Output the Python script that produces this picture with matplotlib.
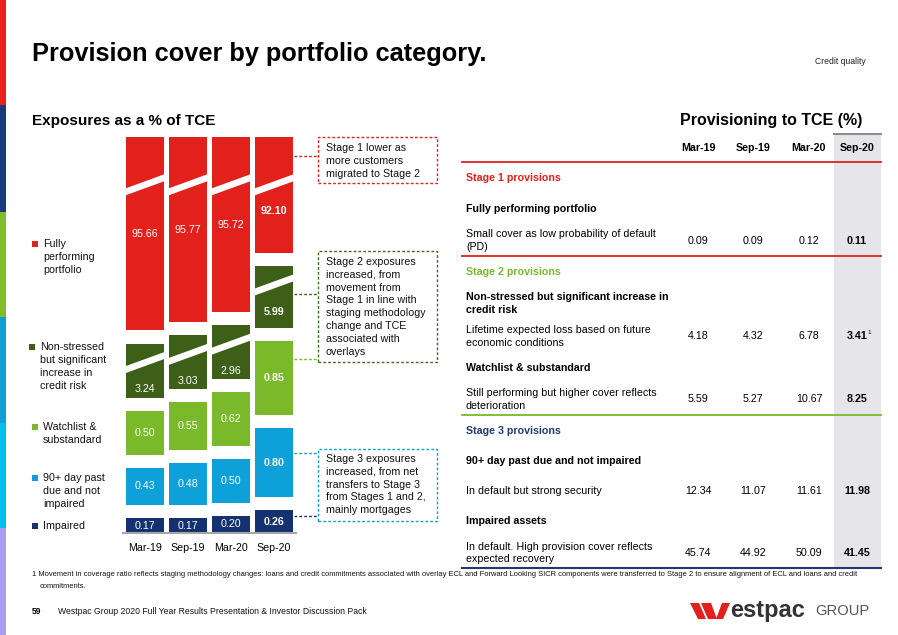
import matplotlib
matplotlib.use('Agg')
import matplotlib.pyplot as plt
from matplotlib.patches import Rectangle, Polygon
from matplotlib.lines import Line2D

plt.rcParams['font.family'] = ['Liberation Sans', 'DejaVu Sans']

# ---------------- data ----------------
periods = ['Mar-19', 'Sep-19', 'Mar-20', 'Sep-20']
impaired = [0.17, 0.17, 0.20, 0.26]
past_due_90 = [0.43, 0.48, 0.50, 0.80]
watchlist = [0.50, 0.55, 0.62, 0.85]
non_stressed = [3.24, 3.03, 2.96, 5.99]
fully_performing = [95.66, 95.77, 95.72, 92.10]

legend_labels = ['Fully\nperforming\nportfolio',
                 'Non-stressed\nbut significant\nincrease in\ncredit risk',
                 'Watchlist &\nsubstandard',
                 '90+ day past\ndue and not\nimpaired',
                 'Impaired']

stage1_cover = [0.09, 0.09, 0.12, 0.11]
ns_cover = [4.18, 4.32, 6.78, 3.41]
watch_cover = [5.59, 5.27, 10.67, 8.25]
pd90_cover = [12.34, 11.07, 11.61, 11.98]
impaired_cover = [45.74, 44.92, 50.09, 41.45]

# ---------------- style ----------------
RED = '#E2201C'
DKGREEN = '#3D5F18'
LTGREEN = '#7AB929'
BLUE = '#0EA0D8'
NAVY = '#143270'
FS = 7.7

W, H = 898, 635
fig = plt.figure(figsize=(W / 100, H / 100), dpi=100)
fig.patch.set_facecolor('white')


def fx(x):
    return x / W


def fy(y):
    return 1 - y / H


def ftext(x, y, s, **kw):
    kw.setdefault('va', 'center')
    kw.setdefault('ha', 'left')
    return fig.text(fx(x), fy(y), s, **kw)


def fline(x0, y0, x1, y1, **kw):
    fig.add_artist(Line2D([fx(x0), fx(x1)], [fy(y0), fy(y1)], transform=fig.transFigure, **kw))


def frect(x0, y0, x1, y1, **kw):
    fig.add_artist(Rectangle((fx(x0), fy(y1)), fx(x1) - fx(x0), fy(y0) - fy(y1),
                             transform=fig.transFigure, **kw))


# left colour strip
strip = [(0, 105, '#E8231E'), (105, 212, '#1A3A7A'), (212, 317, '#7DBE2A'),
         (317, 423, '#129DD3'), (423, 528, '#00C0EE'), (528, 635, '#A99CF2')]
for y0, y1, c in strip:
    frect(0, y0, 6, y1, facecolor=c, edgecolor='none')

# titles
ftext(32, 54, 'Provision cover by portfolio category.', fontsize=18.3, fontweight='bold', color='black')
ftext(866, 61, 'Credit quality', fontsize=6.2, ha='right', color='#222222')
ftext(32, 121, 'Exposures as a % of TCE', fontsize=11.0, fontweight='bold')
ftext(862, 121, 'Provisioning to TCE (%)', fontsize=11.5, fontweight='bold', ha='right')

# ---------------- bar chart ----------------
TOTAL = 4.55
GAP = 0.15
BW = 0.884
RISE = 0.17
THICK = 0.08

ax = fig.add_axes([fx(123.2), fy(533), (295.5 - 123.2) / W, (533 - 137) / H])
ax.set_xlim(-0.5, 3.5)
ax.set_ylim(0, TOTAL)
for s in ['top', 'right', 'left']:
    ax.spines[s].set_visible(False)
ax.spines['bottom'].set_color('#A6A6A6')
ax.spines['bottom'].set_linewidth(1.5)
ax.set_yticks([])
ax.set_xticks(range(len(periods)))
ax.set_xticklabels(periods, fontsize=FS)
ax.tick_params(axis='x', length=0, pad=7)
ax.patch.set_alpha(0)


def broken_h(v):
    return 0.53 + 0.03 * v


def slash(xc, yc):
    x0, x1 = xc - BW / 2 - 0.03, xc + BW / 2 + 0.03
    pts = [(x0, yc - RISE / 2 - THICK / 2), (x1, yc + RISE / 2 - THICK / 2),
           (x1, yc + RISE / 2 + THICK / 2), (x0, yc - RISE / 2 + THICK / 2)]
    ax.add_patch(Polygon(pts, closed=True, facecolor='white', edgecolor='none', zorder=3))
    return yc - RISE / 2 - THICK / 2


for i in range(len(periods)):
    weight = 'bold' if i == len(periods) - 1 else 'normal'
    bottom = 0.0
    small = [(impaired[i], NAVY), (past_due_90[i], BLUE), (watchlist[i], LTGREEN)]
    for v, c in small:
        ax.bar(i, v, width=BW, bottom=bottom, color=c, edgecolor='none', zorder=2)
        ax.text(i, bottom + v / 2, f'{v:.2f}', ha='center', va='center', color='white',
                fontsize=FS, fontweight=weight, zorder=4)
        bottom += v + GAP
    # non-stressed (broken)
    h = broken_h(non_stressed[i])
    ax.bar(i, h, width=BW, bottom=bottom, color=DKGREEN, edgecolor='none', zorder=2)
    top = bottom + h
    lb = slash(i, top - 0.22)
    ly = min(bottom + h / 2, lb - 0.18)
    ax.text(i, ly, f'{non_stressed[i]:.2f}', ha='center', va='center', color='white',
            fontsize=FS, fontweight=weight, zorder=4)
    bottom = top + GAP
    # fully performing (broken, fills to top)
    h = TOTAL - bottom
    ax.bar(i, h, width=BW, bottom=bottom, color=RED, edgecolor='none', zorder=2)
    lb = slash(i, TOTAL - 0.55)
    ly = min(bottom + h / 2, lb - 0.18)
    ax.text(i, ly, f'{fully_performing[i]:.2f}', ha='center', va='center', color='white',
            fontsize=FS, fontweight=weight, zorder=4)

# ---------------- legend ----------------
leg_colors = [RED, DKGREEN, LTGREEN, BLUE, NAVY]
leg_y = [244, 347, 427, 478, 526]
leg_sq_x = [32, 29, 32, 32, 32]
for lab, c, y, sx in zip(legend_labels, leg_colors, leg_y, leg_sq_x):
    frect(sx, y - 3, sx + 6, y + 3, facecolor=c, edgecolor='none')
    for k, line in enumerate(lab.split('\n')):
        ftext(sx + 11, y + k * 12.9, line, fontsize=FS, color='#111111')

# ---------------- annotation boxes ----------------
boxes = [
    (137, 183, RED, ['Stage 1 lower as', 'more customers', 'migrated to Stage 2'], 148),
    (251, 362, '#3D6A1E', ['Stage 2 exposures', 'increased, from', 'movement from',
                          'Stage 1 in line with', 'staging methodology',
                          'change and TCE', 'associated with', 'overlays'], 262),
    (449, 521, BLUE, ['Stage 3 exposures', 'increased, from net', 'transfers to Stage 3',
                      'from Stages 1 and 2,', 'mainly mortgages'], 459),
]
for y0, y1, c, lines, ty in boxes:
    frect(318, y0, 437, y1, facecolor='none', edgecolor=c, linewidth=1.0,
          linestyle=(0, (2, 1.5)))
    for k, line in enumerate(lines):
        ftext(326, ty + k * 12.8, line, fontsize=FS, color='#111111')

connectors = [(156, RED), (294, DKGREEN), (359, LTGREEN), (453, BLUE), (516, NAVY)]
for y, c in connectors:
    fline(294, y, 318, y, color=c, linewidth=1.0, linestyle=(0, (2, 1.5)))

# ---------------- table ----------------
col_x = [698, 753, 809, 857]
frect(834, 134, 881, 568, facecolor='#E6E6EA', edgecolor='none')
fline(834, 134, 881, 134, color='#8C8C8C', linewidth=1.5)
for x, p in zip(col_x, periods):
    ftext(x, 148, p, fontsize=FS, fontweight='bold', ha='center')

fline(462, 162, 881, 162, color=RED, linewidth=1.3)
fline(462, 256, 881, 256, color=RED, linewidth=1.3)
fline(462, 415, 881, 415, color=LTGREEN, linewidth=1.3)
fline(462, 568, 881, 568, color='#1F3A73', linewidth=1.5)

TX = 466
ftext(TX, 178, 'Stage 1 provisions', fontsize=FS, fontweight='bold', color=RED)
ftext(TX, 209, 'Fully performing portfolio', fontsize=FS, fontweight='bold')
ftext(TX, 234, 'Small cover as low probability of default', fontsize=FS)
ftext(TX, 247, '(PD)', fontsize=FS)

ftext(TX, 272, 'Stage 2 provisions', fontsize=FS, fontweight='bold', color=LTGREEN)
ftext(TX, 297, 'Non-stressed but significant increase in', fontsize=FS, fontweight='bold')
ftext(TX, 310, 'credit risk', fontsize=FS, fontweight='bold')
ftext(TX, 330, 'Lifetime expected loss based on future', fontsize=FS)
ftext(TX, 343, 'economic conditions', fontsize=FS)
ftext(TX, 368, 'Watchlist & substandard', fontsize=FS, fontweight='bold')
ftext(TX, 393, 'Still performing but higher cover reflects', fontsize=FS)
ftext(TX, 406, 'deterioration', fontsize=FS)

ftext(TX, 431, 'Stage 3 provisions', fontsize=FS, fontweight='bold', color='#1F3A73')
ftext(TX, 461, '90+ day past due and not impaired', fontsize=FS, fontweight='bold')
ftext(TX, 491, 'In default but strong security', fontsize=FS)
ftext(TX, 521, 'Impaired assets', fontsize=FS, fontweight='bold')
ftext(TX, 547, 'In default. High provision cover reflects', fontsize=FS)
ftext(TX, 559, 'expected recovery', fontsize=FS)

rows = [(241, stage1_cover), (336, ns_cover), (399, watch_cover),
        (491, pd90_cover), (553, impaired_cover)]
for y, vals in rows:
    for j, (x, v) in enumerate(zip(col_x, vals)):
        bold = j == len(vals) - 1
        ftext(x, y, f'{v:.2f}', fontsize=FS, ha='center',
              fontweight='bold' if bold else 'normal')
# footnote marker on Sep-20 Stage 2 value
ftext(867, 333, '1', fontsize=4.5)

# ---------------- footnote & footer ----------------
ftext(32, 575, '1 Movement in coverage ratio reflects staging methodology changes: loans and credit '
      'commitments associated with overlay ECL and Forward Looking SICR components were transferred '
      'to Stage 2 to ensure alignment of ECL and loans and credit', fontsize=5.4, color='#111111')
ftext(40, 586, 'commitments.', fontsize=5.4, color='#111111')
ftext(32, 611, '59', fontsize=6.2, fontweight='bold')
ftext(58, 611, 'Westpac Group 2020 Full Year Results Presentation & Investor Discussion Pack',
      fontsize=6.2, color='#111111')

# logo
logo_W = [
    [(690, 603), (699, 603), (706, 619), (698, 619)],
    [(701, 603), (711, 603), (717, 619), (708, 619)],
    [(716, 619), (723, 619), (730, 603), (722, 603)],
]
for pts in logo_W:
    fig.add_artist(Polygon([(fx(x), fy(y)) for x, y in pts], closed=True,
                           transform=fig.transFigure, facecolor='#E2201C', edgecolor='none'))
ftext(730, 610, 'estpac', fontsize=17.0, fontweight='bold', color='#333333')
ftext(815, 611, 'GROUP', fontsize=10.6, color='#555555')

fig.savefig('out.png', dpi=100)
